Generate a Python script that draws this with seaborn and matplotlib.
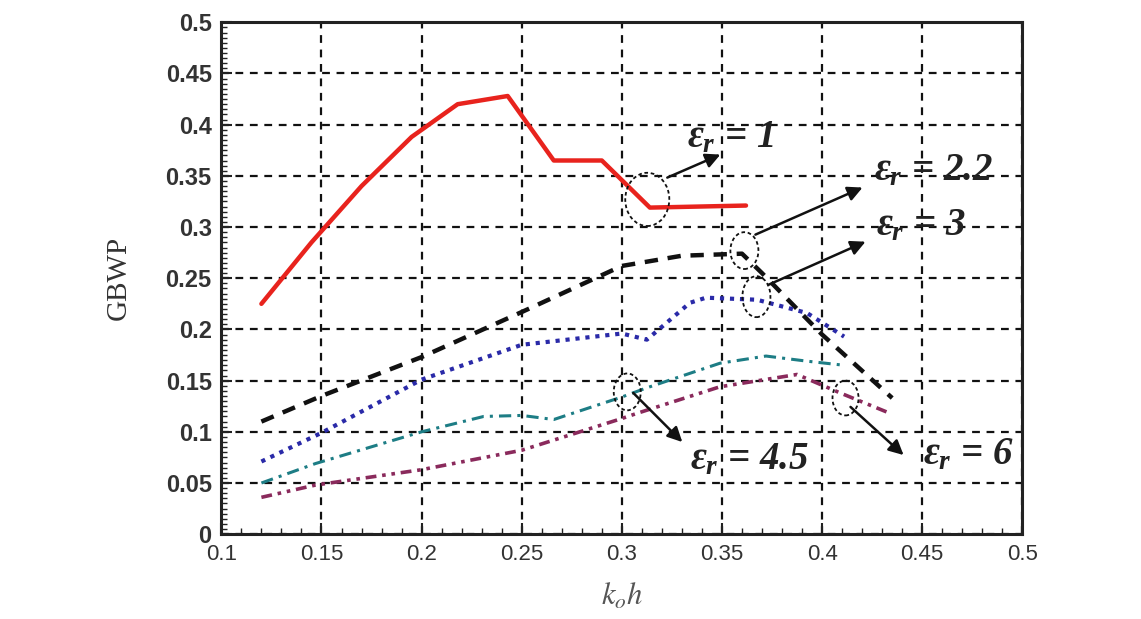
import numpy as np
import pandas as pd
import matplotlib
matplotlib.use('Agg')
import matplotlib.pyplot as plt
import seaborn as sns
from matplotlib import font_manager
from matplotlib.patches import Ellipse
from matplotlib.ticker import MultipleLocator

# 데이터
x_er1 = [0.12, 0.145, 0.17, 0.195, 0.218, 0.243, 0.266, 0.29, 0.314, 0.362]
y_er1 = [0.225, 0.285, 0.34, 0.388, 0.42, 0.428, 0.365, 0.365, 0.319, 0.321]

x_er22 = [0.12, 0.15, 0.2, 0.25, 0.3, 0.33, 0.36, 0.37, 0.40, 0.435]
y_er22 = [0.11, 0.135, 0.173, 0.217, 0.262, 0.272, 0.274, 0.255, 0.195, 0.133]

x_er3 = [0.12, 0.15, 0.2, 0.25, 0.3, 0.3125, 0.334, 0.342, 0.3675, 0.3925, 0.411]
y_er3 = [0.071, 0.099, 0.151, 0.185, 0.196, 0.19, 0.226, 0.231, 0.229, 0.216, 0.193]

x_er45 = [0.12, 0.147, 0.2, 0.231, 0.25, 0.266, 0.3, 0.3125, 0.349, 0.372, 0.3925, 0.411]
y_er45 = [0.05, 0.069, 0.1, 0.115, 0.116, 0.112, 0.134, 0.143, 0.167, 0.174, 0.169, 0.165]

x_er6 = [0.12, 0.147, 0.2, 0.25, 0.3, 0.3075, 0.349, 0.3875, 0.409, 0.434]
y_er6 = [0.036, 0.048, 0.063, 0.082, 0.113, 0.118, 0.144, 0.156, 0.138, 0.118]

labels = [r'$\varepsilon_r$ = 1', r'$\varepsilon_r$ = 2.2', r'$\varepsilon_r$ = 3',
          r'$\varepsilon_r$ = 4.5', r'$\varepsilon_r$ = 6']

xticks = [0.1, 0.15, 0.2, 0.25, 0.3, 0.35, 0.4, 0.45, 0.5]
yticks = [0, 0.05, 0.1, 0.15, 0.2, 0.25, 0.3, 0.35, 0.4, 0.45, 0.5]

# 스타일
sns.set_style('white')
names = set(f.name for f in font_manager.fontManager.ttflist)
narrow = 'Liberation Sans Narrow' if 'Liberation Sans Narrow' in names else 'Liberation Sans'
plt.rcParams['font.family'] = ['Liberation Sans', 'DejaVu Sans']
plt.rcParams['mathtext.fontset'] = 'custom'
plt.rcParams['mathtext.rm'] = 'Liberation Serif:bold'
plt.rcParams['mathtext.it'] = 'Liberation Serif:italic:bold'

fig = plt.figure(figsize=(11.41, 6.19), dpi=100)
ax = fig.add_axes([0.194, 0.137, 0.702, 0.827])

series = [
    (x_er1, y_er1, '#e8231d', '-', 3.2),
    (x_er22, y_er22, '#111111', (0, (3.0, 2.2)), 3.2),
    (x_er3, y_er3, '#2a2aa8', (0, (1.0, 1.4)), 3.0),
    (x_er45, y_er45, '#1d7d85', (0, (4.0, 2.0, 1.0, 2.0)), 2.2),
    (x_er6, y_er6, '#8a2a5c', (0, (3.0, 1.6, 1.0, 1.6, 1.0, 1.6)), 2.6),
]
for xs, ys, c, ls, lw in series:
    df = pd.DataFrame({'x': xs, 'y': ys})
    sns.lineplot(data=df, x='x', y='y', ax=ax, color=c, linestyle=ls,
                 linewidth=lw, sort=False, estimator=None, zorder=3)

ax.set_xlim(0.1, 0.5)
ax.set_ylim(0, 0.5)
ax.set_xticks(xticks)
ax.set_yticks(yticks)
ax.set_xticklabels([f'{v:g}' for v in xticks], family=narrow, fontsize=16, color='#333333')
ax.set_yticklabels([f'{v:g}' for v in yticks], fontweight='bold', fontsize=17, color='#333333')
ax.xaxis.set_minor_locator(MultipleLocator(0.01))
ax.yaxis.set_minor_locator(MultipleLocator(0.005))
ax.tick_params(which='major', direction='in', length=8, width=1.5, color='#222222', pad=7)
ax.tick_params(which='minor', direction='in', length=4, width=1.0, color='#222222')
ax.tick_params(axis='x', which='both', top=False, bottom=True)
ax.tick_params(axis='y', which='both', left=True, right=False)

ax.grid(True, which='major', color='#111111', linestyle=(0, (3.5, 3)), linewidth=1.6, zorder=1)
for sp in ax.spines.values():
    sp.set_color('#222222')
    sp.set_linewidth(2.2)

ax.set_xlabel(r'$k_o h$', fontsize=22, color='#555555', math_fontfamily='stix', labelpad=12)
ax.set_ylabel('GBWP', family='Liberation Serif', fontsize=21, color='#333333', labelpad=24)

# 주석: 타원, 화살표, 글자
ellipses = [(0.3127, 0.327, 0.022, 0.052, 0.0),
            (0.3612, 0.277, 0.014, 0.036, 0.0),
            (0.3672, 0.232, 0.014, 0.040, 0.0),
            (0.3027, 0.139, 0.0135, 0.036, 0.0),
            (0.4117, 0.133, 0.013, 0.034, 0.0)]
for cx, cy, w, h, a in ellipses:
    ax.add_patch(Ellipse((cx, cy), w, h, angle=a, fill=False, edgecolor='#111111',
                         linestyle=(0, (2, 1.5)), linewidth=1.3, zorder=4))

arrows = [((0.3227, 0.3483), (0.3492, 0.3708)),
          ((0.3667, 0.2926), (0.4202, 0.3386)),
          ((0.3732, 0.2436), (0.4217, 0.2857)),
          ((0.3057, 0.138), (0.3302, 0.090)),
          ((0.4142, 0.1243), (0.4407, 0.0773))]
for start, end in arrows:
    ax.annotate('', xy=end, xytext=start,
                arrowprops=dict(arrowstyle='-|>', color='#111111', lw=1.8,
                                mutation_scale=22, shrinkA=0, shrinkB=0), zorder=5)

text_pos = [(0.3327, 0.3875), (0.4257, 0.355), (0.4267, 0.301),
            (0.3342, 0.0724), (0.4502, 0.0773)]
for (tx, ty), lab in zip(text_pos, labels):
    ax.text(tx, ty, lab, fontsize=28, family='Liberation Serif', style='italic',
            fontweight='bold', color='#222222', ha='left', va='center', zorder=6)

plt.savefig('out.png', dpi=100)
